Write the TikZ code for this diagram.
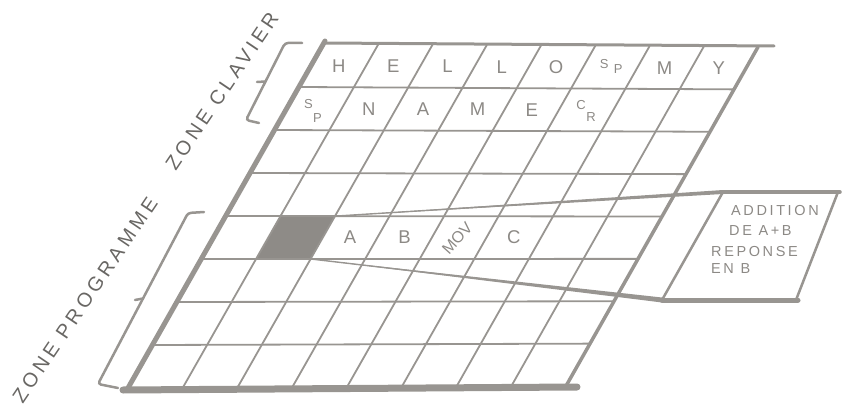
\documentclass[tikz,border=0pt]{standalone}
\usepackage{fontspec}
\setmainfont{Liberation Sans}
\usetikzlibrary{calc}
\definecolor{ink}{RGB}{152,149,145}
\definecolor{inktext}{RGB}{140,137,133}
\definecolor{zoneink}{RGB}{105,103,100}
\definecolor{cellfill}{RGB}{142,139,135}
\begin{document}
\begin{tikzpicture}[x=1pt,y=-1pt,
  gridline/.style={draw=ink,line width=1.8pt,line cap=round},
  border/.style={draw=ink,line cap=round},
  letter/.style={text=inktext,font=\fontsize{18.5}{18.5}\selectfont,inner sep=0pt},
  small/.style={text=inktext,font=\fontsize{13}{13}\selectfont,inner sep=0pt},
  boxtext/.style={text=inktext,font=\fontsize{14.5}{15}\selectfont\addfontfeature{LetterSpace=18},inner sep=0pt,anchor=base west},
  zonetext/.style={text=zoneink,font=\fontsize{20}{20}\selectfont\addfontfeature{LetterSpace=20},inner sep=0pt,rotate=56},
  bracket/.style={draw=ink,line width=2.5pt,rounded corners=3pt,line cap=round}]
\useasboundingbox (0,0) rectangle (847,412);
% grid corners
\coordinate (TL) at (324,44);
\coordinate (TR) at (758,47);
\coordinate (BL) at (128,388);
\coordinate (BR) at (566,386);
\foreach \r in {0,...,8}{\foreach \c in {0,...,8}{
  \coordinate (p-\r-\c) at ($ ($(TL)!\r/8!(BL)$)!\c/8!($(TR)!\r/8!(BR)$) $);
}}
% shaded cell
\fill[cellfill] (p-4-1) -- (p-4-2) -- (p-5-2) -- (p-5-1) -- cycle;
% interior lines
\foreach \r in {1,...,7}{\draw[gridline] (p-\r-0) -- (p-\r-8);}
\foreach \c in {1,...,7}{\draw[gridline] (p-0-\c) -- (p-8-\c);}
% borders
\draw[border,line width=3pt] ($(TL)+(0,-1)$) -- ($(TR)+(16,-1)$);
\draw[border,line width=3.5pt] (TR) -- (BR);
\draw[border,line width=5pt] ($(TL)+(1,-3)$) -- (BL);
\draw[border,line width=7pt] ($(BL)+(-5,2)$) -- ($(BR)+(11,1)$);
% row 0
\foreach \c/\t in {0/H,1/E,2/L,3/L,4/O,6/M,7/Y}{
  \pgfmathtruncatemacro\cc{\c+1}
  \node[letter] (a\c) at ($(p-0-\c)!.5!(p-1-\cc)$) {\t};
}
\node[small] (a5s) at ($($(p-0-5)!.5!(p-1-6)$)+(-6,-3)$) {S};
\node[small] (a5p) at ($($(p-0-5)!.5!(p-1-6)$)+(8,2)$) {P};
% row 1
\foreach \c/\t in {1/N,2/A,3/M,4/E}{
  \pgfmathtruncatemacro\cc{\c+1}
  \node[letter] (b\c) at ($(p-1-\c)!.5!(p-2-\cc)$) {\t};
}
\node[small] (b0s) at ($($(p-1-0)!.5!(p-2-1)$)+(-6,-5)$) {S};
\node[small] (b0p) at ($($(p-1-0)!.5!(p-2-1)$)+(3,9)$) {P};
\node[small] (b5c) at ($($(p-1-5)!.5!(p-2-6)$)+(-5,-5)$) {C};
\node[small] (b5r) at ($($(p-1-5)!.5!(p-2-6)$)+(5,7)$) {R};
% row 4
\node[letter] (eA) at ($(p-4-2)!.5!(p-5-3)$) {A};
\node[letter] (eB) at ($(p-4-3)!.5!(p-5-4)$) {B};
\node[text=inktext,font=\fontsize{16}{16}\selectfont,inner sep=0pt,rotate=48] (eM) at ($($(p-4-4)!.5!(p-5-5)$)+(-2,1)$) {MOV};
\node[letter] (eC) at ($(p-4-5)!.5!(p-5-6)$) {C};
% comment box
\coordinate (BoxTL) at (723,192);
\coordinate (BoxTR) at (838,192);
\coordinate (BoxBR) at (796,300);
\coordinate (BoxBL) at (662,300);
\fill[ink] (p-4-2) -- ($(BoxTL)+(0,-2)$) -- ($(BoxTL)+(0,2)$) -- cycle;
\draw[border,line width=1.4pt] (p-4-2) -- (BoxTL);
\fill[ink] (p-5-2) -- ($(BoxBL)+(0,-2.5)$) -- ($(BoxBL)+(0,2.5)$) -- cycle;
\draw[border,line width=1.4pt] (p-5-2) -- (BoxBL);
\draw[border,line width=3.5pt] (BoxTL) -- ($(BoxTR)+(2,0)$);
\draw[border,line width=2.5pt] (BoxTL) -- (BoxBL);
\draw[border,line width=2.5pt] (BoxTR) -- (BoxBR);
\draw[border,line width=5pt] (BoxBL) -- ($(BoxBR)+(2,0)$);
\node[boxtext] (t1) at (731,215) {ADDITION};
\node[boxtext] (t2) at (729,235) {DE A+B};
\node[boxtext] (t3) at (711,256) {REPONSE};
\node[boxtext] (t4) at (711,273) {EN B};
% brackets
\draw[bracket] (302,43) -- (285,43) -- (246,120) -- (259,123);
\draw[bracket,rounded corners=0pt] (265.5,81.5) -- (257,82);
\draw[bracket] (204,212) -- (188,213) -- (98,384) -- (118,388);
\draw[bracket,rounded corners=0pt] (143,298.5) -- (135,300);
% zone labels
\node[zonetext] (zc) at (222,91) {ZONE CLAVIER};
\node[zonetext] (zp) at (85,300) {ZONE PROGRAMME};
\end{tikzpicture}
\end{document}
